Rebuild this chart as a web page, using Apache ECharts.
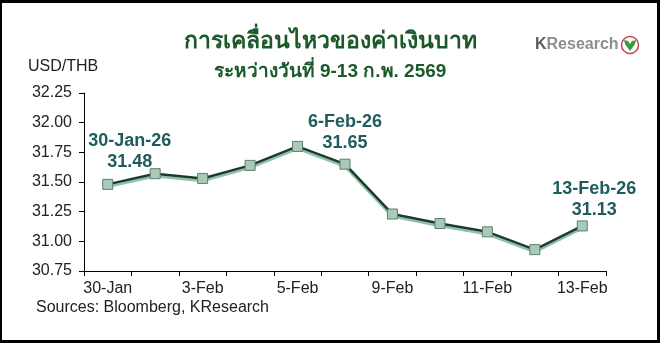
<!DOCTYPE html>
<html>
<head>
<meta charset="utf-8">
<script src="https://cdn.jsdelivr.net/npm/echarts@6/dist/echarts.min.js"></script>
<style>
html,body{margin:0;padding:0;background:#fff;}
#chart{width:660px;height:343px;}
</style>
</head>
<body>
<div id="chart"></div>
<script>
// ---- data ----
const categories = ['30-Jan','2-Feb','3-Feb','4-Feb','5-Feb','6-Feb','9-Feb','10-Feb','11-Feb','12-Feb','13-Feb'];
const usdthb = [31.48, 31.57, 31.53, 31.64, 31.80, 31.65, 31.23, 31.15, 31.08, 30.93, 31.13];
const annotatedIndex = [0, 5, 10];
const annotatedDates = ['30-Jan-26', '6-Feb-26', '13-Feb-26'];
const yMin = 30.75, yMax = 32.25, yStep = 0.25;
const titleText = 'การเคลื่อนไหวของค่าเงินบาท';
const subtitleText = 'ระหว่างวันที่ 9-13 ก.พ. 2569';
const unitText = 'USD/THB';
const sourceText = 'Sources: Bloomberg, KResearch';

// ---- styling ----
const FONT = "'Liberation Sans', Arial, 'Noto Sans', sans-serif";
const labelOffsets = [[22, -1], [0, 0], [12, 5]];

const seriesData = usdthb.map(function (v, i) {
  const k = annotatedIndex.indexOf(i);
  if (k < 0) return v;
  return {
    value: v,
    label: {
      show: true,
      position: 'top',
      offset: labelOffsets[k],
      formatter: annotatedDates[k] + '\n' + v.toFixed(2)
    }
  };
});

const chart = echarts.init(document.getElementById('chart'), null, {renderer: 'canvas'});
chart.setOption({
  backgroundColor: '#ffffff',
  animation: false,
  grid: {left: 84, right: 54, top: 93, bottom: 72},
  xAxis: {
    type: 'category',
    data: categories,
    boundaryGap: true,
    axisLine: {lineStyle: {color: '#000', width: 1}},
    axisTick: {show: true, interval: 0, length: 5, lineStyle: {color: '#000'}},
    axisLabel: {interval: 1, margin: 10, color: '#222', fontSize: 16, fontFamily: FONT},
    splitLine: {show: false}
  },
  yAxis: {
    type: 'value',
    min: yMin, max: yMax, interval: yStep,
    axisLine: {show: true, lineStyle: {color: '#000', width: 1}},
    axisTick: {show: true, length: 5, lineStyle: {color: '#000'}},
    axisLabel: {margin: 12, color: '#222', fontSize: 16, fontFamily: FONT,
      formatter: function (v) { return v.toFixed(2); }},
    splitLine: {show: false}
  },
  series: [{
    type: 'line',
    data: seriesData,
    symbol: 'rect',
    symbolSize: 10,
    lineStyle: {color: '#1c3a2c', width: 2.5, shadowColor: '#8fc2a6', shadowOffsetY: 2.5, shadowOffsetX: 0, shadowBlur: 0},
    itemStyle: {color: '#a9cab9', borderColor: '#5d7f6f', borderWidth: 1},
    label: {
      show: false,
      color: '#1e5c5e',
      fontSize: 18,
      fontWeight: 'bold',
      fontFamily: FONT,
      lineHeight: 21,
      align: 'center'
    }
  }],
  graphic: [
    {type: 'text', left: 'center', top: 30, style: {text: titleText, fill: '#1a5a28', fontSize: 23, fontWeight: 'bold', fontFamily: FONT}},
    {type: 'text', left: 'center', top: 62, style: {text: subtitleText, fill: '#1a5a28', fontSize: 19, fontWeight: 'bold', fontFamily: FONT}},
    {type: 'text', x: 28, y: 67, style: {text: unitText, fill: '#222', fontSize: 16, fontFamily: FONT, verticalAlign: 'middle'}},
    {type: 'text', x: 36, y: 308, style: {text: sourceText, fill: '#222', fontSize: 16, fontFamily: FONT, verticalAlign: 'middle'}},
    {type: 'text', x: 535, y: 45, style: {
      text: '{k|K}{r|Research}', verticalAlign: 'middle',
      rich: {
        k: {fill: '#5e5e5e', fontSize: 16, fontWeight: 'bold', fontFamily: FONT},
        r: {fill: '#8e8e8e', fontSize: 16, fontWeight: 'bold', fontFamily: FONT}
      }
    }},
    {type: 'circle', shape: {cx: 630, cy: 45, r: 8.5}, style: {fill: '#fff', stroke: '#c9444c', lineWidth: 1.5}},
    {type: 'polygon', shape: {points: [[630, 51], [625, 44], [624, 40], [628, 41], [630, 44], [632, 41], [636, 40], [635, 44]]}, style: {fill: '#3c9a3c'}},
    {type: 'rect', z: 100, shape: {x: 0, y: 0, width: 2, height: 343}, style: {fill: '#000'}},
    {type: 'rect', z: 100, shape: {x: 0, y: 0, width: 660, height: 3}, style: {fill: '#000'}},
    {type: 'rect', z: 100, shape: {x: 657, y: 0, width: 3, height: 343}, style: {fill: '#000'}},
    {type: 'rect', z: 100, shape: {x: 0, y: 340, width: 660, height: 3}, style: {fill: '#000'}}
  ]
});
</script>
</body>
</html>
